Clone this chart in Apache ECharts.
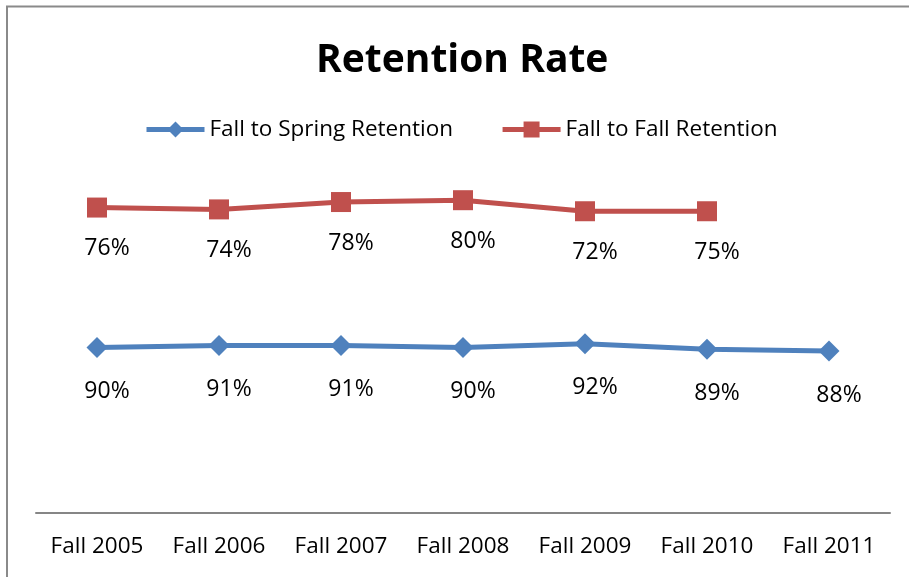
<!DOCTYPE html>
<html>
<head>
<meta charset="utf-8">
<script src="https://cdn.jsdelivr.net/npm/echarts@6/dist/echarts.min.js"></script>
<style>
  html, body { margin: 0; padding: 0; background: #fff; }
  #chart { width: 909px; height: 577px; }
</style>
</head>
<body>
<div id="chart"></div>
<script>
// categories and values (stacked in Excel, labels show own values)
const terms = ['Fall 2005', 'Fall 2006', 'Fall 2007', 'Fall 2008', 'Fall 2009', 'Fall 2010', 'Fall 2011']
const fallToSpring = [90, 91, 91, 90, 92, 89, 88]
const fallToFall = [76, 74, 78, 80, 72, 75, null]

const font = '"Open Sans", "Noto Sans", sans-serif'

let myChart = echarts.init(document.getElementById('chart'))

let option = {
  animation: false,
  title: {
    text: 'Retention Rate',
    left: 311,
    top: 36,
    textStyle: { fontFamily: font, fontSize: 39, fontWeight: 'bold', color: '#000' }
  },
  legend: {
    left: 139,
    top: 113,
    itemWidth: 58,
    itemHeight: 20,
    itemGap: 47,
    lineStyle: { width: 5 },
    textStyle: { fontFamily: font, fontSize: 22.5, color: '#000' },
    data: ['Fall to Spring Retention', 'Fall to Fall Retention']
  },
  graphic: [{
    type: 'rect',
    shape: { x: 7, y: 6.5, width: 1200, height: 1200 },
    style: { fill: 'none', stroke: '#8a8a8a', lineWidth: 2 }
  }],
  grid: { left: 36, right: 19, top: 145, bottom: 64 },
  xAxis: {
    type: 'category',
    data: terms,
    axisLine: { lineStyle: { color: '#868686', width: 2 } },
    axisTick: { show: false },
    axisLabel: { interval: 0, margin: 22, fontFamily: font, fontSize: 22.5, color: '#000' }
  },
  yAxis: {
    type: 'value',
    min: 0,
    max: 200,
    show: false,
    splitLine: { show: false }
  },
  series: [
    {
      name: 'Fall to Spring Retention',
      type: 'line',
      stack: 'total',
      data: fallToSpring,
      symbol: 'diamond',
      symbolSize: 21,
      color: '#4F81BD',
      lineStyle: { width: 5, color: '#4F81BD' },
      itemStyle: { color: '#4F81BD' },
      label: {
        show: true,
        position: 'inside',
        offset: [10, 44],
        formatter: p => p.value + '%',
        fontFamily: font,
        fontSize: 23,
        color: '#000'
      }
    },
    {
      name: 'Fall to Fall Retention',
      type: 'line',
      stack: 'total',
      data: fallToFall,
      symbol: 'rect',
      symbolSize: 20,
      color: '#C0504D',
      lineStyle: { width: 5, color: '#C0504D' },
      itemStyle: { color: '#C0504D' },
      label: {
        show: true,
        position: 'inside',
        offset: [10, 41],
        formatter: p => p.value + '%',
        fontFamily: font,
        fontSize: 23,
        color: '#000'
      }
    }
  ]
}

myChart.setOption(option)
</script>
</body>
</html>
